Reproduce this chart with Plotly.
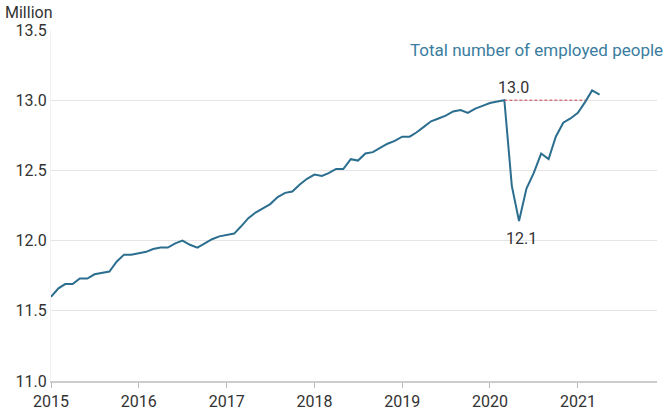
import pandas as pd
import plotly.graph_objects as go

# monthly employed people, million
months = pd.date_range("2015-01-01", "2021-04-01", freq="MS")
employed = [
    11.60, 11.66, 11.69, 11.69, 11.73, 11.73, 11.76, 11.77, 11.78, 11.85, 11.90, 11.90,
    11.91, 11.92, 11.94, 11.95, 11.95, 11.98, 12.00, 11.97, 11.95, 11.98, 12.01, 12.03,
    12.04, 12.05, 12.10, 12.16, 12.20, 12.23, 12.26, 12.31, 12.34, 12.35, 12.40, 12.44,
    12.47, 12.46, 12.48, 12.51, 12.51, 12.58, 12.57, 12.62, 12.63, 12.66, 12.69, 12.71,
    12.74, 12.74, 12.77, 12.81, 12.85, 12.87, 12.89, 12.92, 12.93, 12.91, 12.94, 12.96,
    12.98, 12.99, 13.00, 12.39, 12.14, 12.37, 12.48, 12.62, 12.58, 12.74, 12.84, 12.87,
    12.91, 12.99, 13.07, 13.04,
]
y_ticks = [11.0, 11.5, 12.0, 12.5, 13.0, 13.5]
series_name = "Total number of employed people"

line_col = "#2b6e8f"
text_col = "#333333"

df = pd.DataFrame({"month": months, "value": employed})

# peak before the drop, trough, and month when the peak level is regained
peak_i = df[df.month < "2020-04-01"].value.idxmax()
trough_i = df.value[peak_i:].idxmin()
back_i = df[(df.index > trough_i) & (df.value >= df.value[peak_i] - 0.01)].index[0]

fig = go.Figure()
fig.add_trace(go.Scatter(x=df.month, y=df.value, mode="lines",
                         line=dict(color=line_col, width=2), showlegend=False,
                         hoverinfo="skip"))

fig.add_shape(type="line", x0=df.month[peak_i], x1=df.month[back_i],
              y0=df.value[peak_i], y1=df.value[peak_i],
              line=dict(color="#c8434f", width=1, dash="3px,2px"))

fig.add_annotation(x=df.month[peak_i], y=df.value[peak_i], text=f"{df.value[peak_i]:.1f}",
                   showarrow=False, xshift=9, yshift=13,
                   font=dict(size=16, color=text_col))
fig.add_annotation(x=df.month[trough_i], y=df.value[trough_i], text=f"{df.value[trough_i]:.1f}",
                   showarrow=False, xshift=2, yshift=-18,
                   font=dict(size=16, color=text_col))
fig.add_annotation(xref="paper", yref="paper", x=1.013, y=0.943, xanchor="right",
                   yanchor="middle", text=series_name, showarrow=False,
                   font=dict(size=17, color="#3a7d9e"))
fig.add_annotation(xref="paper", yref="paper", x=-0.079, y=1.05, xanchor="left",
                   yanchor="middle", text="Million", showarrow=False,
                   font=dict(size=16, color=text_col))

fig.update_xaxes(range=["2015-01-01", "2021-11-26"], dtick="M12", tickformat="%Y",
                 ticks="outside", ticklen=5, tickcolor="#bbbbbb", showgrid=False,
                 showline=True, linecolor="#cccccc", linewidth=2, automargin=False,
                 tickfont=dict(size=16, color=text_col))
fig.update_yaxes(range=[11.0, 13.5], tickvals=y_ticks, tickformat=".1f",
                 showgrid=True, gridcolor="#e5e5e5", gridwidth=1, zeroline=False,
                 showline=True, linecolor="#f2f2f2", linewidth=1, automargin=False,
                 tickfont=dict(size=16, color=text_col))

fig.update_layout(width=667, height=417, margin=dict(l=51, r=10, t=30, b=36),
                  plot_bgcolor="white", paper_bgcolor="white",
                  font=dict(family="Roboto", size=16, color=text_col))

fig.write_html("out.html", config={"displayModeBar": False},
               post_script="document.body.style.margin='0';")
